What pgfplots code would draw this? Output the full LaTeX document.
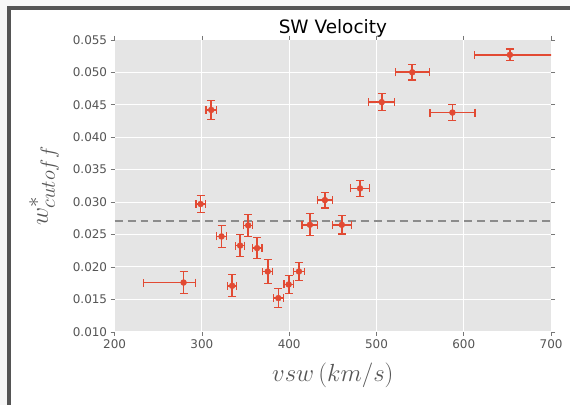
\documentclass[border=0pt]{standalone}
\usepackage{pgfplots}
\pgfplotsset{compat=1.18}
\usepackage{fontspec}
\setmainfont{DejaVu Sans}
\definecolor{ggbg}{HTML}{E5E5E5}
\definecolor{ggred}{HTML}{E24A33}
\definecolor{framec}{HTML}{555555}
\definecolor{outerc}{HTML}{F7F7F7}
\definecolor{dashc}{HTML}{8C8C8C}
\begin{document}
\begin{tikzpicture}[x=1pt,y=1pt]
\fill[outerc] (0,0) rectangle (572,406);
\fill[white] (9,0) rectangle (572,397.5);
\draw[framec, line width=4pt] (9,0) -- (9,397.5) -- (572,397.5);
\begin{axis}[
  at={(115pt,73pt)}, anchor=south west,
  scale only axis, width=438pt, height=293pt,
  xmin=200, xmax=700, ymin=0.010, ymax=0.055,
  xtick={200,300,400,500,600,700},
  ytick={0.010,0.015,0.020,0.025,0.030,0.035,0.040,0.045,0.050,0.055},
  scaled y ticks=false,
  axis background/.style={fill=ggbg},
  axis line style={draw=none},
  grid=major, grid style={white, line width=1pt},
  tick style={draw=framec!80, line width=0.6pt},
  tick align=outside, major tick length=4pt,
  /pgf/number format/assume math mode=true,
  yticklabel style={/pgf/number format/fixed, /pgf/number format/fixed zerofill, /pgf/number format/precision=3},
  ticklabel style={font=\fontsize{12}{12}\selectfont, text=framec},
  title={SW Velocity},
  every axis title shift=0pt,
  title style={font=\fontsize{18.5}{18.5}\selectfont, at={(axis description cs:0.5,1)}, anchor=base, yshift=6.7pt},
  xlabel={$vsw\,(km/s)$}, ylabel={$w^*_{cutoff}$},
  xlabel style={font=\fontsize{25.5}{25.5}\selectfont, text=framec, at={(axis description cs:0.5,-0.1706)}, anchor=base},
  ylabel style={font=\fontsize{31}{31}\selectfont, text=framec, at={(axis description cs:-0.153,0.5)}, anchor=base},
]
\addplot[color=dashc, line width=1.3pt, dash pattern=on 8pt off 5pt] coordinates {(200,0.0271) (700,0.0271)};
\addplot[only marks, mark=*, mark size=3pt, color=ggred,
  error bars/.cd, x dir=both, x explicit, y dir=both, y explicit,
  error bar style={line width=1.7pt, ggred},
  error mark options={rotate=90, mark size=4pt, line width=1.3pt, ggred}]
coordinates {
(279,0.0176) += (14,0.0017) -= (45.6,0.0017)
(298.5,0.0297) +- (5.3,0.00135)
(310.7,0.0442) +- (6,0.0015)
(322.5,0.0247) +- (6,0.0017)
(334.7,0.0171) +- (5,0.0017)
(343.8,0.0233) +- (5,0.0017)
(353,0.0264) +- (5,0.0017)
(363.2,0.0229) +- (5.5,0.0016)
(375.4,0.0193) +- (5.7,0.0018)
(387.6,0.0152) +- (5.7,0.0015)
(399.4,0.0173) +- (5.3,0.0014)
(411.2,0.0193) +- (6,0.0014)
(423.7,0.0265) +- (9,0.0017)
(440.9,0.0303) +- (8.5,0.0012)
(460.3,0.0265) +- (10.7,0.0014)
(481.2,0.0321) +- (11,0.0012)
(506,0.0454) +- (15,0.0013)
(541,0.0500) +- (19.4,0.0012)
(587,0.0438) +- (25.7,0.0012)
(652.8,0.0527) += (60,0.0009) -= (40.7,0.0009)
};
\end{axis}
\end{tikzpicture}
\end{document}
